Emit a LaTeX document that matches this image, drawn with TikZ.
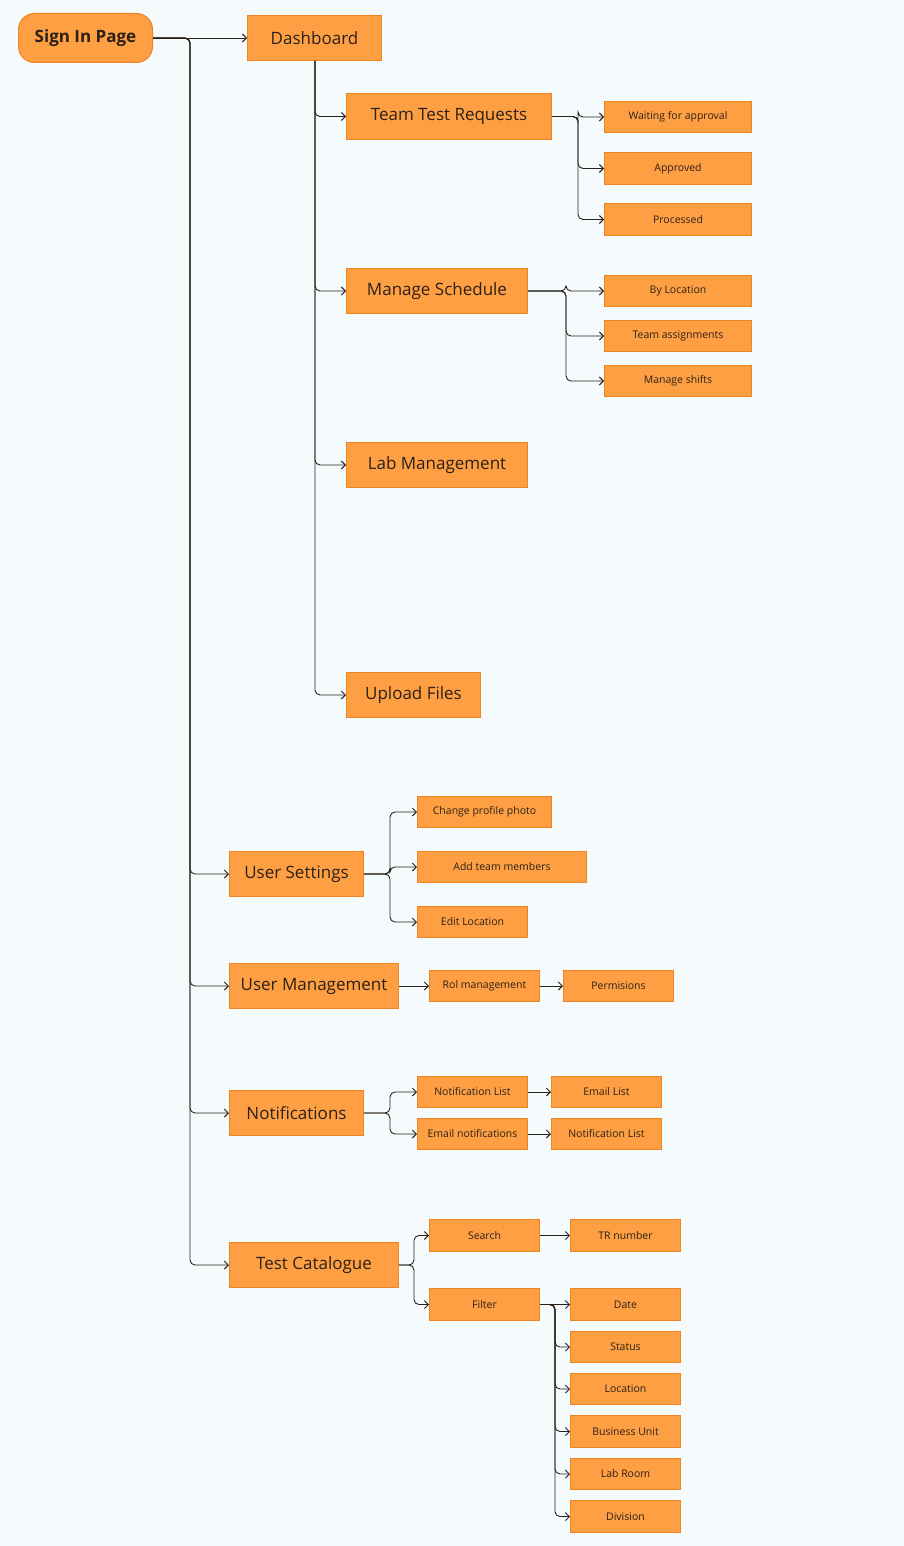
\documentclass[tikz,border=0pt]{standalone}
\usetikzlibrary{arrows.meta}
\usepackage{fontspec}
\setmainfont{Open Sans}
\definecolor{bg}{HTML}{F5FAFD}
\definecolor{box}{HTML}{FF9F43}
\definecolor{edge}{HTML}{EE8520}
\definecolor{ink}{HTML}{2B2118}
\begin{document}
\begin{tikzpicture}[x=1pt,y=-1pt,
 b/.style={draw=edge,fill=box,line width=1pt,text=ink,inner sep=0pt,anchor=north west},
 big/.style={b,font=\fontsize{17}{20}\selectfont},
 sm/.style={b,font=\fontsize{10.5}{12}\selectfont},
 conn/.style={draw=ink,line width=0.9pt,rounded corners=5pt,-{Straight Barb[length=4pt,width=8pt]}}]
\fill[bg] (0,0) rectangle (904,1546);
\useasboundingbox (0,0) rectangle (904,1546);
\node[b,rounded corners=16pt,minimum width=134,minimum height=49,font=\bfseries\fontsize{17}{20}\selectfont] (sign) at (18,13) {Sign In Page};
\node[big,minimum width=134,minimum height=45] (dash) at (247,15) {Dashboard};
\node[big,minimum width=205,minimum height=46] (ttr) at (346,93) {Team Test Requests};
\node[sm,minimum width=147,minimum height=31] (wait) at (604,101) {Waiting for approval};
\node[sm,minimum width=147,minimum height=32] (appr) at (604,152) {Approved};
\node[sm,minimum width=147,minimum height=32] (proc) at (604,203) {Processed};
\node[big,minimum width=181,minimum height=45] (ms) at (346,268) {Manage Schedule};
\node[sm,minimum width=147,minimum height=31] (byl) at (604,275) {By Location};
\node[sm,minimum width=147,minimum height=31] (ta) at (604,320) {Team assignments};
\node[sm,minimum width=147,minimum height=31] (msh) at (604,365) {Manage shifts};
\node[big,minimum width=181,minimum height=45] (lab) at (346,442) {Lab Management};
\node[big,minimum width=134,minimum height=45] (up) at (346,672) {Upload Files};
\node[big,minimum width=134,minimum height=45] (us) at (229,851) {User Settings};
\node[sm,minimum width=134,minimum height=31] (cpp) at (417,796) {Change profile photo};
\node[sm,minimum width=169,minimum height=31] (atm) at (417,851) {Add team members};
\node[sm,minimum width=110,minimum height=31] (el) at (417,906) {Edit Location};
\node[big,minimum width=169,minimum height=45] (um) at (229,963) {User Management};
\node[sm,minimum width=110,minimum height=31] (rol) at (429,970) {Rol management};
\node[sm,minimum width=110,minimum height=31] (perm) at (563,970) {Permisions};
\node[big,minimum width=134,minimum height=45] (nt) at (229,1090) {Notifications};
\node[sm,minimum width=110,minimum height=31] (nl) at (417,1076) {Notification List};
\node[sm,minimum width=110,minimum height=31] (eml) at (551,1076) {Email List};
\node[sm,minimum width=110,minimum height=31] (en) at (417,1118) {Email notifications};
\node[sm,minimum width=110,minimum height=31] (nl2) at (551,1118) {Notification List};
\node[big,minimum width=169,minimum height=45] (tc) at (229,1242) {Test Catalogue};
\node[sm,minimum width=110,minimum height=32] (srch) at (429,1219) {Search};
\node[sm,minimum width=110,minimum height=32] (trn) at (570,1219) {TR number};
\node[sm,minimum width=110,minimum height=32] (filt) at (429,1288) {Filter};
\node[sm,minimum width=110,minimum height=32] (date) at (570,1288) {Date};
\node[sm,minimum width=110,minimum height=31] (stat) at (570,1331) {Status};
\node[sm,minimum width=110,minimum height=31] (loc) at (570,1373) {Location};
\node[sm,minimum width=110,minimum height=32] (bu) at (570,1415) {Business Unit};
\node[sm,minimum width=110,minimum height=31] (lr) at (570,1458) {Lab Room};
\node[sm,minimum width=110,minimum height=32] (div) at (570,1500) {Division};
\coordinate (t) at (190,0);
\coordinate (k1) at (578,0);
\coordinate (k2) at (566,0);
\coordinate (k3) at (390,0);
\coordinate (k4) at (414,0);
\coordinate (k5) at (555,0);
\coordinate (d) at (315,0);
\draw[conn] (sign.east) -- (dash.west);
\foreach \c in {us,um,nt,tc} \draw[conn] (sign.east) -- (t|-sign.east) |- (\c.west);
\foreach \c in {ttr,ms,lab,up} \draw[conn] (d|-dash.south) |- (\c.west);
\foreach \c in {wait,appr,proc} \draw[conn] (ttr.east) -- (k1|-ttr.east) |- (\c.west);
\foreach \c in {byl,ta,msh} \draw[conn] (ms.east) -- (k2|-ms.east) |- (\c.west);
\foreach \c in {cpp,atm,el} \draw[conn] (us.east) -- (k3|-us.east) |- (\c.west);
\draw[conn] (um.east) -- (rol.west);
\draw[conn] (rol.east) -- (perm.west);
\foreach \c in {nl,en} \draw[conn] (nt.east) -- (k3|-nt.east) |- (\c.west);
\draw[conn] (nl.east) -- (eml.west);
\draw[conn] (en.east) -- (nl2.west);
\foreach \c in {srch,filt} \draw[conn] (tc.east) -- (k4|-tc.east) |- (\c.west);
\draw[conn] (srch.east) -- (trn.west);
\draw[conn] (filt.east) -- (date.west);
\foreach \c in {stat,loc,bu,lr,div} \draw[conn] (filt.east) -- (k5|-filt.east) |- (\c.west);
\end{tikzpicture}
\end{document}
